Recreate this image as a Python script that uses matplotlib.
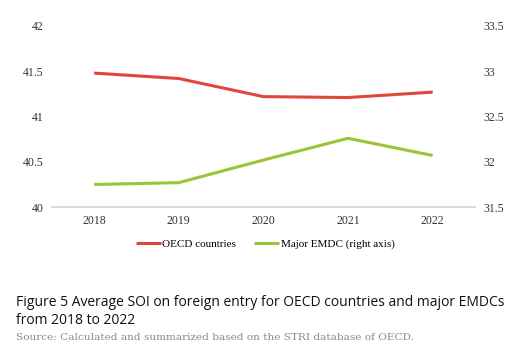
import matplotlib
matplotlib.use("Agg")
import matplotlib.pyplot as plt

years = ["2018", "2019", "2020", "2021", "2022"]
oecd = [41.48, 41.42, 41.22, 41.21, 41.27]
emdc = [31.75, 31.77, 32.02, 32.26, 32.07]
left_ticks = [40, 40.5, 41, 41.5, 42]
right_ticks = [31.5, 32, 32.5, 33, 33.5]

red = "#e0463b"
green = "#9cc43b"

fig = plt.figure(figsize=(5.13, 3.64), dpi=100)
ax = fig.add_axes([0.101, 0.431, 0.825, 0.4976])
ax2 = ax.twinx()

x = list(range(len(years)))
l1, = ax.plot(x, oecd, color=red, lw=2.2, solid_capstyle="butt", label="OECD countries")
l2, = ax2.plot(x, emdc, color=green, lw=2.2, solid_capstyle="butt", label="Major EMDC (right axis)")

ax.set_xlim(-0.5, 4.5)
ax.set_ylim(40, 42)
ax2.set_ylim(31.5, 33.5)
ax.set_xticks(x)
ax.set_xticklabels(years)
ax.set_yticks(left_ticks)
ax.set_yticklabels([f"{t:g}" for t in left_ticks])
ax2.set_yticks(right_ticks)
ax2.set_yticklabels([f"{t:g}" for t in right_ticks])

serif = "Liberation Serif"
for a in (ax, ax2):
    for s in ("top", "left", "right"):
        a.spines[s].set_visible(False)
    a.spines["bottom"].set_color("#d9d9d9")
    a.spines["bottom"].set_linewidth(1.2)
    a.tick_params(length=0, labelsize=8.5, colors="#333333")
    for lab in a.get_xticklabels() + a.get_yticklabels():
        lab.set_fontfamily(serif)
ax.tick_params(axis="y", pad=6)
ax2.tick_params(axis="y", pad=6)
ax.tick_params(axis="x", pad=6)

leg = fig.legend(handles=[l1, l2], loc="center", bbox_to_anchor=(265 / 513, 1 - 244 / 364),
                 ncol=2, frameon=False, prop={"family": serif, "size": 8},
                 handlelength=2.3, handletextpad=0.1, columnspacing=1.6)

fig.text(16 / 513, 1 - 302 / 364, "Figure 5 Average SOI on foreign entry for OECD countries and major EMDCs",
         fontsize=10, family="Open Sans", va="center", ha="left", color="#111111")
fig.text(16 / 513, 1 - 320 / 364, "from 2018 to 2022",
         fontsize=10, family="Open Sans", va="center", ha="left", color="#111111")
fig.text(16 / 513, 1 - 337 / 364, "Source: Calculated and summarized based on the STRI database of OECD.",
         fontsize=7.55, family="DejaVu Serif", va="center", ha="left", color="#8a8a8a")

fig.savefig("out.png", dpi=100)
